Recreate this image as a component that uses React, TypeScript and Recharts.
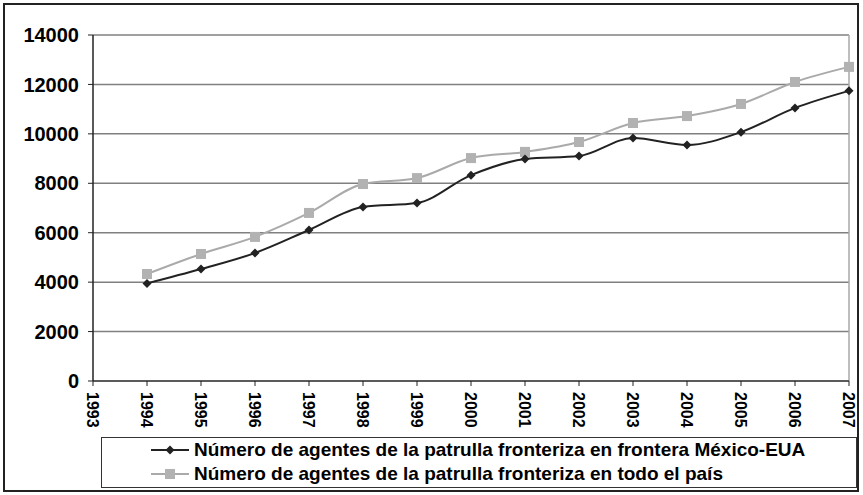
import { LineChart, Line, XAxis, YAxis, CartesianGrid, ReferenceLine } from "recharts";

const years = ["1993", "1994", "1995", "1996", "1997", "1998", "1999", "2000", "2001", "2002", "2003", "2004", "2005", "2006", "2007"];
const fronteraValues = [null, 3950, 4530, 5180, 6110, 7040, 7200, 8330, 8980, 9100, 9830, 9550, 10070, 11050, 11740];
const paisValues = [null, 4330, 5140, 5830, 6800, 7970, 8210, 9020, 9270, 9670, 10440, 10720, 11210, 12100, 12710];
const yTicks = [0, 2000, 4000, 6000, 8000, 10000, 12000, 14000];

const seriesNames = [
  "Número de agentes de la patrulla fronteriza en frontera México-EUA",
  "Número de agentes de la patrulla fronteriza en todo el país",
];

const data = years.map((year, i) => ({
  year,
  frontera: fronteraValues[i],
  pais: paisValues[i],
}));

const FONT = "'Liberation Sans', Arial, sans-serif";

const Diamond = ({ cx, cy }: any) => {
  if (cx == null || cy == null) return null;
  const r = 4.5;
  return (
    <polygon
      points={`${cx},${cy - r} ${cx + r},${cy} ${cx},${cy + r} ${cx - r},${cy}`}
      fill="#222"
    />
  );
};

const Square = ({ cx, cy }: any) => {
  if (cx == null || cy == null) return null;
  return <rect x={cx - 5} y={cy - 5} width={10} height={10} fill="#b2b2b2" />;
};

const YearTick = ({ x, y, payload }: any) => (
  <text
    transform={`translate(${x},${y + 4}) rotate(90)`}
    textAnchor="start"
    dy="0.36em"
    fontFamily={FONT}
    fontWeight="bold"
    fontSize={16}
    fill="#000"
  >
    {payload.value}
  </text>
);

export default function App() {
  return (
    <div style={{ position: "absolute", left: 0, top: 0, width: 863, height: 495, background: "#fff" }}>
      <div
        style={{
          position: "absolute",
          left: 3,
          top: 3,
          width: 856,
          height: 489,
          border: "2px solid #222",
          boxSizing: "border-box",
        }}
      />
      <LineChart
        width={863}
        height={495}
        data={data}
        margin={{ top: 35, right: 14, left: 0, bottom: 64 }}
        style={{ position: "absolute", left: 0, top: 0 }}
      >
        <CartesianGrid vertical={false} stroke="#808080" strokeWidth={1.5} />
        <ReferenceLine x="2007" stroke="#a8a8a8" strokeWidth={1.5} />
        <XAxis
          dataKey="year"
          interval={0}
          height={50}
          tick={<YearTick />}
          tickSize={5}
          axisLine={{ stroke: "#444", strokeWidth: 1.5 }}
          tickLine={{ stroke: "#222" }}
        />
        <YAxis
          width={93}
          domain={[0, 14000]}
          ticks={yTicks}
          interval={0}
          tickSize={5}
          tickMargin={9}
          axisLine={{ stroke: "#222", strokeWidth: 1.5 }}
          tickLine={{ stroke: "#222" }}
          tick={{ fontFamily: FONT, fontWeight: "bold", fontSize: 20, fill: "#000" }}
        />
        <Line
          type="monotone"
          dataKey="pais"
          stroke="#aaaaaa"
          strokeWidth={2}
          dot={<Square />}
          isAnimationActive={false}
        />
        <Line
          type="monotone"
          dataKey="frontera"
          stroke="#222"
          strokeWidth={2}
          dot={<Diamond />}
          isAnimationActive={false}
        />
      </LineChart>
      <div
        style={{
          position: "absolute",
          left: 101,
          top: 437,
          width: 756,
          height: 51,
          border: "1.5px solid #333",
          boxSizing: "border-box",
          fontFamily: FONT,
          fontWeight: "bold",
          fontSize: 19,
          color: "#000",
          paddingTop: 0,
        }}
      >
        {seriesNames.map((name, i) => (
          <div key={name} style={{ display: "flex", alignItems: "center", height: 24, marginLeft: 48 }}>
            <svg width={40} height={20} style={{ marginRight: 4 }}>
              <line x1={1} y1={10} x2={39} y2={10} stroke={i === 0 ? "#222" : "#aaaaaa"} strokeWidth={2} />
              {i === 0 ? (
                <polygon points="20,5.5 24.5,10 20,14.5 15.5,10" fill="#222" />
              ) : (
                <rect x={15} y={5} width={10} height={10} fill="#b2b2b2" />
              )}
            </svg>
            <span>{name}</span>
          </div>
        ))}
      </div>
    </div>
  );
}
